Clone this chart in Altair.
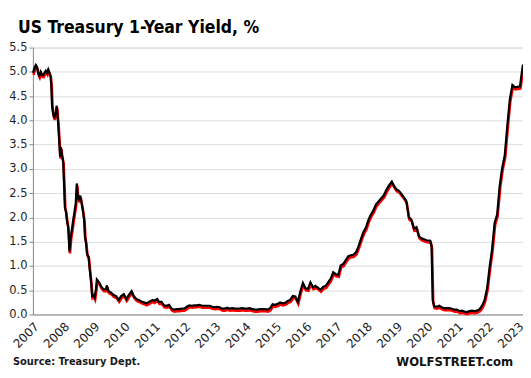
import altair as alt
import pandas as pd

dates = [
    "2007-01-03", "2007-01-20", "2007-02-05", "2007-02-20", "2007-03-05", "2007-03-20",
    "2007-04-05", "2007-04-20", "2007-05-05", "2007-05-20", "2007-06-05", "2007-06-20",
    "2007-07-05", "2007-07-20", "2007-08-01", "2007-08-10", "2007-08-20", "2007-09-01",
    "2007-09-15", "2007-10-01", "2007-10-15", "2007-11-01", "2007-11-15", "2007-11-25",
    "2007-12-05", "2007-12-15",
    "2008-01-01", "2008-01-10", "2008-01-22", "2008-02-01", "2008-02-15", "2008-03-01",
    "2008-03-17", "2008-04-01", "2008-04-15", "2008-05-01", "2008-05-15", "2008-06-01",
    "2008-06-13", "2008-06-25", "2008-07-10", "2008-07-25", "2008-08-10", "2008-08-25",
    "2008-09-10", "2008-09-20", "2008-10-01", "2008-10-15", "2008-11-01", "2008-11-15",
    "2008-12-01", "2008-12-15",
    "2009-01-01", "2009-01-15", "2009-02-01", "2009-02-10", "2009-03-01", "2009-03-15",
    "2009-04-01", "2009-05-01", "2009-06-01", "2009-06-10", "2009-07-01", "2009-08-01",
    "2009-09-01", "2009-10-01", "2009-11-01", "2009-12-01",
    "2010-01-01", "2010-02-01", "2010-03-01", "2010-04-05", "2010-05-01", "2010-06-01",
    "2010-07-01", "2010-08-01", "2010-09-01", "2010-10-01", "2010-11-01", "2010-12-15",
    "2011-01-01", "2011-02-08", "2011-03-01", "2011-04-01", "2011-05-01", "2011-06-01",
    "2011-07-01", "2011-08-01", "2011-09-01", "2011-10-01", "2011-11-01", "2011-12-01",
    "2012-01-01", "2012-02-01", "2012-03-01", "2012-04-01", "2012-05-01", "2012-06-01",
    "2012-07-01", "2012-08-01", "2012-09-01", "2012-10-01", "2012-11-01", "2012-12-01",
    "2013-01-01", "2013-02-01", "2013-03-01", "2013-04-01", "2013-05-01", "2013-06-01",
    "2013-07-01", "2013-08-01", "2013-09-01", "2013-10-01", "2013-11-01", "2013-12-01",
    "2014-01-01", "2014-02-01", "2014-03-01", "2014-04-01", "2014-05-01", "2014-06-01",
    "2014-07-01", "2014-08-01", "2014-09-01", "2014-10-01", "2014-11-01", "2014-12-01",
    "2015-01-01", "2015-02-01", "2015-03-01", "2015-04-01", "2015-05-01", "2015-06-01",
    "2015-07-01", "2015-08-01", "2015-09-01", "2015-10-01", "2015-11-01", "2015-12-01",
    "2016-01-01", "2016-02-01", "2016-03-01", "2016-04-01", "2016-05-01", "2016-06-01",
    "2016-07-01", "2016-08-01", "2016-09-01", "2016-10-01", "2016-11-01", "2016-12-01",
    "2017-01-01", "2017-02-01", "2017-03-01", "2017-04-01", "2017-05-01", "2017-06-01",
    "2017-07-01", "2017-08-01", "2017-09-01", "2017-10-01", "2017-11-01", "2017-12-01",
    "2018-01-01", "2018-02-01", "2018-03-01", "2018-04-01", "2018-05-01", "2018-06-01",
    "2018-07-01", "2018-08-01", "2018-09-01", "2018-10-01", "2018-11-08", "2018-12-01",
    "2019-01-01", "2019-02-01", "2019-03-01", "2019-04-01", "2019-05-01", "2019-06-01",
    "2019-07-01", "2019-08-01", "2019-09-01", "2019-10-01", "2019-11-01", "2019-12-01",
    "2020-01-01", "2020-02-15", "2020-03-01", "2020-03-15", "2020-04-01", "2020-05-01",
    "2020-06-01", "2020-07-01", "2020-08-01", "2020-09-01", "2020-10-01", "2020-11-01",
    "2020-12-01",
    "2021-01-01", "2021-02-01", "2021-03-01", "2021-04-01", "2021-05-01", "2021-06-01",
    "2021-07-01", "2021-08-01", "2021-09-01", "2021-10-01", "2021-11-01", "2021-12-01",
    "2022-01-01", "2022-02-01", "2022-03-01", "2022-04-01", "2022-05-01", "2022-06-01",
    "2022-07-01", "2022-08-01", "2022-09-01", "2022-10-01", "2022-11-01", "2022-12-01",
    "2023-01-01", "2023-02-01", "2023-02-20", "2023-03-08",
]

yields = [
    4.98, 5.08, 5.14, 5.10, 4.98, 4.92,
    5.00, 4.94, 4.93, 4.98, 5.02, 4.98,
    5.05, 4.98, 4.92, 4.75, 4.30, 4.15,
    4.05, 4.15, 4.30, 3.95, 3.55, 3.25,
    3.45, 3.30,
    3.15, 2.75, 2.20, 2.15, 1.95, 1.80,
    1.30, 1.60, 1.75, 1.95, 2.10, 2.30,
    2.70, 2.45, 2.35, 2.45, 2.30, 2.15,
    1.95, 1.60, 1.50, 1.25, 1.20, 0.95,
    0.70, 0.38,
    0.40, 0.35, 0.55, 0.72, 0.68, 0.65,
    0.58, 0.52, 0.52, 0.60, 0.48, 0.45,
    0.40, 0.38, 0.30, 0.38,
    0.42, 0.32, 0.40, 0.48, 0.38, 0.32,
    0.30, 0.27, 0.25, 0.23, 0.26, 0.30,
    0.28, 0.32, 0.26, 0.26, 0.19, 0.18,
    0.20, 0.12, 0.10, 0.11, 0.11, 0.12,
    0.12, 0.16, 0.19, 0.18, 0.19, 0.19,
    0.20, 0.18, 0.18, 0.18, 0.18, 0.16,
    0.15, 0.16, 0.15, 0.12, 0.12, 0.14,
    0.12, 0.13, 0.12, 0.12, 0.12, 0.13,
    0.12, 0.12, 0.13, 0.11, 0.10, 0.10,
    0.11, 0.11, 0.11, 0.10, 0.13, 0.21,
    0.20, 0.22, 0.25, 0.23, 0.24, 0.28,
    0.30, 0.38, 0.37, 0.26, 0.48, 0.65,
    0.54, 0.53, 0.66, 0.56, 0.59, 0.55,
    0.51, 0.57, 0.59, 0.66, 0.74, 0.87,
    0.83, 0.82, 1.01, 1.04, 1.12, 1.20,
    1.22, 1.23, 1.28, 1.40, 1.56, 1.70,
    1.80, 1.96, 2.06, 2.15, 2.27, 2.33,
    2.39, 2.45, 2.56, 2.65, 2.74, 2.66,
    2.58, 2.55, 2.49, 2.42, 2.34, 2.00,
    1.96, 1.77, 1.80, 1.61, 1.57, 1.55,
    1.53, 1.52, 1.41, 0.30, 0.17, 0.16,
    0.18, 0.15, 0.13, 0.13, 0.13, 0.12,
    0.10,
    0.10, 0.07, 0.08, 0.06, 0.05, 0.07,
    0.08, 0.07, 0.08, 0.11, 0.18, 0.30,
    0.55, 1.00, 1.34, 1.89, 2.06, 2.65,
    3.02, 3.28, 3.89, 4.43, 4.73, 4.68,
    4.69, 4.70, 4.95, 5.15,
]

tick_years = list(range(2007, 2024))
y_ticks = [0.0, 0.5, 1.0, 1.5, 2.0, 2.5, 3.0, 3.5, 4.0, 4.5, 5.0, 5.5]
title_text = "US Treasury 1-Year Yield, %"
source_text = "Source: Treasury Dept."
brand_text = "WOLFSTREET.com"

df = pd.DataFrame({"date": dates, "yield": yields})

x_enc = alt.X(
    "date:T",
    title=None,
    scale=alt.Scale(domain=[alt.DateTime(year=2007, month=1, date=1),
                            alt.DateTime(year=2023, month=3, date=9)]),
    axis=alt.Axis(
        values=[alt.DateTime(year=y, month=1, date=1) for y in tick_years],
        format="%Y", labelAngle=-45, labelAlign="right", labelBaseline="top",
        grid=False, ticks=False, domainColor="#8c8c8c", labelFontSize=12,
        labelFont="DejaVu Sans", labelColor="#1f1f1f", labelPadding=6,
        labelOverlap=False, labelFlush=False,
    ),
)
y_enc = alt.Y(
    "yield:Q",
    title=None,
    scale=alt.Scale(domain=[0, 5.5], nice=False),
    axis=alt.Axis(
        values=y_ticks, format=".1f", grid=True, gridColor="#dcdcdc",
        domainColor="#8c8c8c", tickColor="#8c8c8c", tickSize=4,
        labelFontSize=11.5, labelFont="DejaVu Sans", labelColor="#1f1f1f",
        labelPadding=2,
    ),
)

base = alt.Chart(df)
red = base.mark_line(color="#ff0000", strokeWidth=2.6, yOffset=2, xOffset=0.5).encode(x=x_enc, y=y_enc)
black = base.mark_line(color="#000000", strokeWidth=2.2).encode(x=x_enc, y=y_enc)

src = alt.Chart(pd.DataFrame({"t": [source_text]})).mark_text(
    align="left", baseline="middle", fontWeight="bold", fontSize=11,
    font="DejaVu Sans Condensed", color="#1a1a1a"
).encode(x=alt.value(-20), y=alt.value(316), text="t:N")

brand = alt.Chart(pd.DataFrame({"t": [brand_text]})).mark_text(
    align="right", baseline="middle", fontWeight="bold", fontSize=13,
    font="DejaVu Sans Condensed", color="#111111"
).encode(x=alt.value(482), y=alt.value(316), text="t:N")

chart = alt.layer(red, black, src, brand).properties(
    width=492, height=268,
    title=alt.TitleParams(
        title_text, anchor="start", frame="group", dx=-15, offset=5, fontSize=17.5,
        font="DejaVu Sans Condensed", fontWeight="bold", color="#000000",
    ),
    autosize=alt.AutoSizeParams(type="none"),
    padding={"left": 25, "top": 39, "right": 0, "bottom": 55},
).configure_view(stroke=None).configure(background="white")

chart.save("out.html", embed_options={"renderer": "svg", "actions": False})
